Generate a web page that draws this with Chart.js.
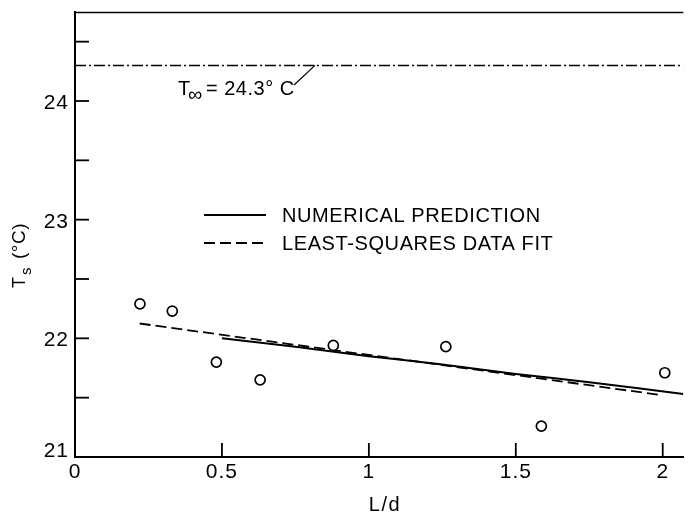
<!DOCTYPE html>
<html>
<head>
<meta charset="utf-8">
<script src="https://cdn.jsdelivr.net/npm/chart.js@4"></script>
<style>
  html, body { margin: 0; padding: 0; background: #fff; }
  canvas { display: block; }
</style>
</head>
<body>
<canvas id="chart" width="690" height="514"></canvas>
<script>
"use strict";

// Measured surface temperatures
const measuredX = [0.221, 0.331, 0.481, 0.630, 0.879, 1.262, 1.587, 2.007];
const measuredY = [22.29, 22.23, 21.80, 21.65, 21.94, 21.93, 21.26, 21.71];

// Numerical prediction (solid curve)
const predictionX = [0.5, 0.75, 1.0, 1.25, 1.5, 1.75, 2.07];
const predictionY = [22.00, 21.93, 21.85, 21.78, 21.70, 21.63, 21.53];

// Least-squares fit (dashed line)
const fitX = [0.22, 2.0];
const fitY = [22.125, 21.52];

// Ambient temperature
const ambientTemp = 24.3;
const ambientX = [0, 2.07];

// Axis ticks
const xTickValues = [0.5, 1, 1.5, 2];
const xTickLabels = ["0", "0.5", "1", "1.5", "2"];
const xLabelValues = [0, 0.5, 1, 1.5, 2];
const yTickValues = [21.5, 22, 22.5, 23, 23.5, 24, 24.5];
const yLabelValues = [21, 22, 23, 24];
const yTickLabels = ["21", "22", "23", "24"];

const FONT = "Liberation Sans, Arial, sans-serif";

const toPoints = (xs, ys) => xs.map((x, i) => ({ x: x, y: ys[i] }));

const setFont = (ctx, size, spacing = 0.5) => {
  ctx.font = `${size}px ${FONT}`;
  ctx.letterSpacing = `${spacing}px`;
};

/**
 * Draws inward ticks, tick labels, axis titles, legend and the T-infinity note.
 */
const decorPlugin = {
  id: "decor",
  afterDraw(chart) {
    const { ctx, chartArea } = chart;
    const xs = chart.scales.x;
    const ys = chart.scales.y;
    ctx.save();
    ctx.strokeStyle = "#000";
    ctx.fillStyle = "#000";

    // top border
    ctx.lineWidth = 1.5;
    ctx.beginPath();
    ctx.moveTo(chartArea.left, chartArea.top + 0.5);
    ctx.lineTo(chartArea.right, chartArea.top + 0.5);
    ctx.stroke();

    // inward ticks
    ctx.lineWidth = 1.8;
    yTickValues.forEach((v) => {
      const py = ys.getPixelForValue(v);
      ctx.beginPath();
      ctx.moveTo(chartArea.left, py);
      ctx.lineTo(chartArea.left + 14, py);
      ctx.stroke();
    });
    xTickValues.forEach((v) => {
      const px = xs.getPixelForValue(v);
      ctx.beginPath();
      ctx.moveTo(px, chartArea.bottom);
      ctx.lineTo(px, chartArea.bottom - 14);
      ctx.stroke();
    });

    // tick labels
    setFont(ctx, 21, 1);
    ctx.textAlign = "right";
    ctx.textBaseline = "alphabetic";
    yLabelValues.forEach((v, i) => {
      const py = Math.min(ys.getPixelForValue(v) + 8, chartArea.bottom);
      ctx.fillText(yTickLabels[i], chartArea.left - 6, py);
    });
    ctx.textAlign = "center";
    xLabelValues.forEach((v, i) => {
      ctx.fillText(xTickLabels[i], xs.getPixelForValue(v), chartArea.bottom + 21);
    });

    // x title
    setFont(ctx, 20, 1.5);
    ctx.fillText("L/d", 385, 511);

    // y title, rotated
    ctx.save();
    ctx.translate(25, 288);
    ctx.rotate(-Math.PI / 2);
    ctx.textAlign = "left";
    setFont(ctx, 18);
    ctx.fillText("T", 0, 0);
    setFont(ctx, 15);
    ctx.fillText("s", 13, 6);
    setFont(ctx, 19);
    ctx.fillText("(°C)", 29, 0);
    ctx.restore();

    // legend
    const legendRows = [
      { ds: chart.data.datasets[1], y: 215 },
      { ds: chart.data.datasets[2], y: 243 }
    ];
    legendRows.forEach((row) => {
      ctx.save();
      ctx.lineWidth = row.ds.borderWidth;
      ctx.setLineDash(row.ds.borderDash || []);
      ctx.beginPath();
      ctx.moveTo(204, row.y);
      ctx.lineTo(266, row.y);
      ctx.stroke();
      ctx.restore();
      setFont(ctx, 20, 0.6);
      ctx.textAlign = "left";
      ctx.fillText(row.ds.label, 282, row.y + 7);
    });

    // T-infinity annotation
    const ay = ys.getPixelForValue(ambientTemp);
    setFont(ctx, 20);
    ctx.textAlign = "left";
    ctx.fillText("T", 178, 95);
    setFont(ctx, 20, 0);
    ctx.fillText("\u221E", 188, 101);
    setFont(ctx, 20);
    ctx.fillText("= 24.3° C", 206, 95);
    ctx.lineWidth = 1.2;
    ctx.beginPath();
    ctx.moveTo(294, 85);
    ctx.lineTo(315, ay);
    ctx.stroke();

    ctx.restore();
  }
};

const initChart = () => {
  const ctx = document.getElementById("chart").getContext("2d");

  new Chart(ctx, {
    type: "scatter",
    data: {
      datasets: [
        {
          label: "MEASURED",
          data: toPoints(measuredX, measuredY),
          pointStyle: "circle",
          pointRadius: 5,
          pointBorderWidth: 1.7,
          pointBorderColor: "#000",
          pointBackgroundColor: "#fff",
          showLine: false
        },
        {
          label: "NUMERICAL PREDICTION",
          data: toPoints(predictionX, predictionY),
          showLine: true,
          borderColor: "#000",
          borderWidth: 2,
          pointRadius: 0,
          tension: 0.3
        },
        {
          label: "LEAST-SQUARES DATA FIT",
          data: toPoints(fitX, fitY),
          showLine: true,
          borderColor: "#000",
          borderWidth: 1.8,
          borderDash: [11, 5],
          pointRadius: 0
        },
        {
          label: "T\u221E",
          data: ambientX.map((x) => ({ x: x, y: ambientTemp })),
          showLine: true,
          borderColor: "#000",
          borderWidth: 1.5,
          borderDash: [11, 3, 2, 3],
          pointRadius: 0
        }
      ]
    },
    options: {
      responsive: false,
      animation: false,
      devicePixelRatio: 1,
      layout: { padding: { left: 75, right: 0, top: 12, bottom: 57 } },
      plugins: {
        legend: { display: false },
        tooltip: { enabled: false }
      },
      scales: {
        x: {
          type: "linear",
          min: 0,
          max: 2.07,
          ticks: { display: false },
          grid: { display: false, drawTicks: false },
          border: { display: true, color: "#000", width: 2 }
        },
        y: {
          type: "linear",
          min: 21,
          max: 24.75,
          ticks: { display: false },
          grid: { display: false, drawTicks: false },
          border: { display: true, color: "#000", width: 2 }
        }
      }
    },
    plugins: [decorPlugin]
  });
};

document.addEventListener("DOMContentLoaded", initChart);
</script>
</body>
</html>
